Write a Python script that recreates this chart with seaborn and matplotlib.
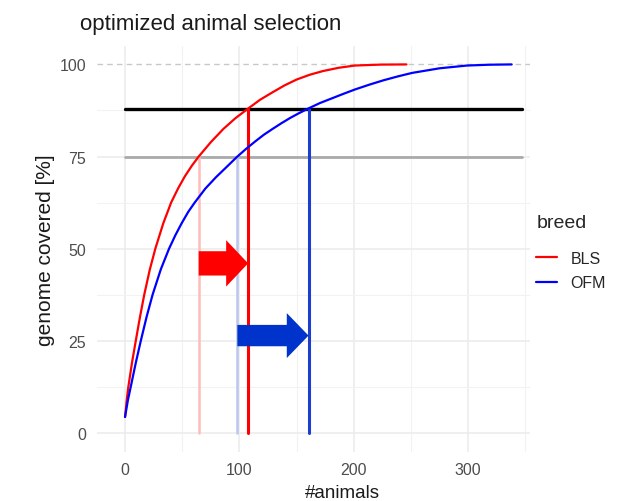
import matplotlib
matplotlib.use("Agg")
import matplotlib.pyplot as plt
import seaborn as sns
import pandas as pd
from matplotlib.patches import FancyArrow

sns.set_theme(style="white")
plt.rcParams["font.family"] = ["Liberation Sans", "DejaVu Sans"]

# genome coverage curves
bls_x = [0, 1.45, 2.9, 6.15, 9.4, 13.1, 16.8, 21.65, 26.5, 33.4, 40.3, 46.3,
         52.35, 58.4, 64.4, 75, 86, 96.5, 107.5, 118, 128.75, 139.4, 150,
         161.5, 173, 187, 201, 223.5, 246]
bls_y = [4.3, 8.8, 12.5, 19.15, 25, 31.5, 37.5, 44.3, 50, 56.85, 62.5, 66.3,
         69.65, 72.5, 75, 78.9, 82.5, 85.4, 88, 90.4, 92.4, 94.3, 95.9,
         97.2, 98.2, 99.1, 99.7, 99.95, 100]
ofm_x = [0, 2.5, 5, 9.4, 13.8, 18.95, 24.1, 31.3, 38.5, 44.1, 49.7, 55.3, 60.9,
         70.2, 79.55, 88.9, 98.2, 105.9, 113.6, 121.3, 129, 136.75, 144.5,
         152.25, 160, 170.25, 180.5, 190.75, 201, 213.5, 226, 238.5, 251, 275,
         299, 318.5, 338]
ofm_y = [4.3, 8.85, 12.5, 19.0, 25, 31.6, 37.5, 44.4, 50, 53.7, 57.0, 60.0, 62.5,
         66.3, 69.4, 72.2, 75, 77.1, 79.05, 80.9, 82.5, 84.05, 85.5,
         86.8, 88, 89.5, 90.75, 92.0, 93.2, 94.5, 95.7, 96.75, 97.7, 98.95,
         99.7, 99.92, 100]

breeds = ["BLS", "OFM"]
colors = {"BLS": "#FF0000", "OFM": "#0000FF"}

# thresholds and selected animal numbers
low_level = 75
high_level = 88
full_level = 100
hline_end = 347
bls_low, bls_high = 64.4, 107.6
ofm_low, ofm_high = 98.2, 160.4
bls_arrow_y = 46
ofm_arrow_y = 26.4

df = pd.DataFrame({
    "animals": bls_x + ofm_x,
    "covered": bls_y + ofm_y,
    "breed": ["BLS"] * len(bls_x) + ["OFM"] * len(ofm_x),
})

fig = plt.figure(figsize=(6.28, 5.02), dpi=100)
ax = fig.add_axes([97 / 628, 1 - 453 / 502, 433 / 628, 406 / 502])

# grid like ggplot theme_minimal
for v in [0, 100, 200, 300]:
    ax.axvline(v, color="#ebebeb", lw=1.1, zorder=0)
for v in [50, 150, 250, 350]:
    ax.axvline(v, color="#f2f2f2", lw=0.8, zorder=0)
for v in [0, 25, 50, 75]:
    ax.axhline(v, color="#ebebeb", lw=1.1, zorder=0)
for v in [12.5, 37.5, 62.5, 87.5]:
    ax.axhline(v, color="#f2f2f2", lw=0.8, zorder=0)

ax.axhline(full_level, color="#c8c8c8", lw=1.0, ls=(0, (4, 3)), zorder=1)

# threshold lines
ax.plot([0, hline_end], [low_level, low_level], color="#aaaaaa", lw=2.0, zorder=2)
ax.plot([0, hline_end], [high_level, high_level], color="black", lw=2.4, zorder=2)

ax.plot([bls_low, bls_low], [0, low_level], color="#ffbcbc", lw=1.8, zorder=2)
ax.plot([ofm_low, ofm_low], [0, low_level], color="#b9c6ee", lw=1.8, zorder=2)
ax.plot([bls_high, bls_high], [0, high_level], color="#FF0000", lw=2.2, zorder=3)
ax.plot([ofm_high, ofm_high], [0, high_level], color="#1a3fcc", lw=2.2, zorder=3)

sns.lineplot(data=df, x="animals", y="covered", hue="breed", hue_order=breeds,
             palette=colors, sort=False, estimator=None, lw=1.6, ax=ax, zorder=4)

# arrows showing the shift in animals needed
ax.add_patch(FancyArrow(bls_low, bls_arrow_y, bls_high - bls_low, 0, width=6.6,
                        head_width=12.6, head_length=19.2,
                        length_includes_head=True, color="#FF0000", lw=0, zorder=5))
ax.add_patch(FancyArrow(ofm_low, ofm_arrow_y, ofm_high - ofm_low, 0, width=5.8,
                        head_width=12.2, head_length=19,
                        length_includes_head=True, color="#0033CC", lw=0, zorder=5))

ax.set_xlim(-24.5, 354)
ax.set_ylim(-5.2, 105)
ax.set_xticks([0, 100, 200, 300])
ax.set_yticks([0, 25, 50, 75, 100])
ax.tick_params(axis="both", length=0, labelsize=11.5, labelcolor="#4d4d4d")
ax.tick_params(axis="x", pad=7)
ax.tick_params(axis="y", pad=8)
for s in ax.spines.values():
    s.set_visible(False)

ax.set_xlabel("#animals", fontsize=13.5, color="#1a1a1a")
ax.set_ylabel("genome covered [%]", fontsize=15, color="#1a1a1a")
ax.xaxis.set_label_coords(0.566, -0.08)
ax.yaxis.set_label_coords(-0.098, 0.5)
fig.text(80 / 628, 1 - 30 / 502, "optimized animal selection", fontsize=16,
         color="#1a1a1a", ha="left", va="baseline")

leg = ax.legend(title="breed", loc="center left", bbox_to_anchor=(1.0, 0.492),
                borderaxespad=0, frameon=False, fontsize=11.5, title_fontsize=14,
                handlelength=1.3, handletextpad=0.85, labelspacing=0.6)
leg._legend_box.align = "left"
leg._legend_box.sep = 14
for line in leg.get_lines():
    line.set_linewidth(1.6)

fig.savefig("out.png", dpi=100)
